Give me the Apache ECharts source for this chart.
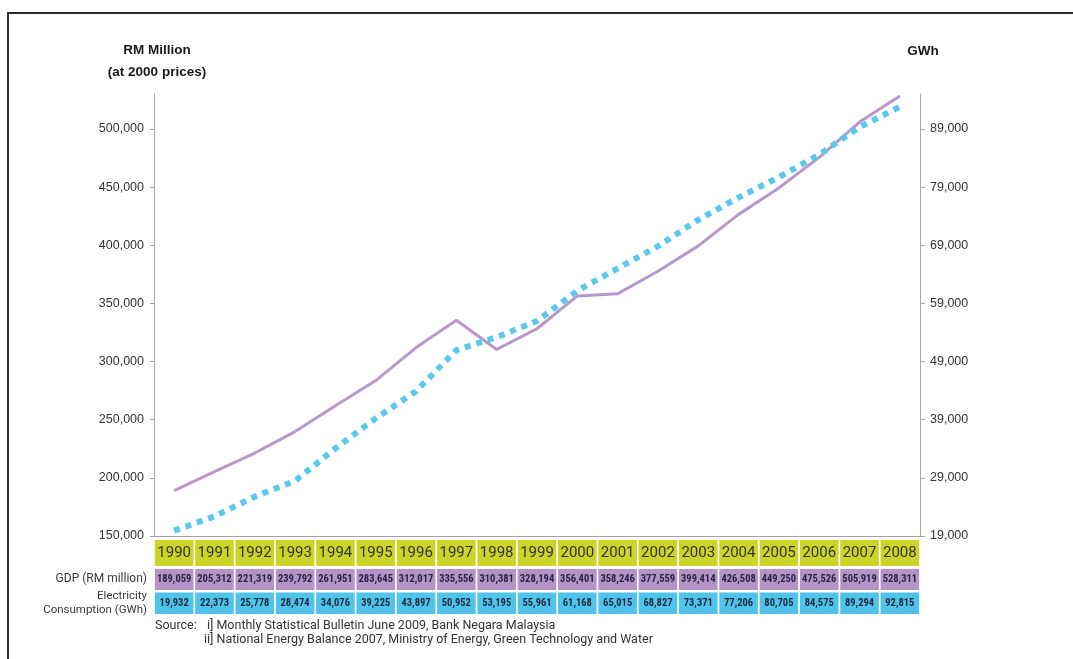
<!DOCTYPE html>
<html>
<head>
<meta charset="utf-8">
<script src="https://cdn.jsdelivr.net/npm/echarts@6/dist/echarts.min.js"></script>
<style>
  html, body { margin: 0; padding: 0; background: #fff; }
  #chart { position: absolute; left: 0; top: 0; width: 1073px; height: 659px; }
  #frame { position: absolute; left: 7px; top: 12px; width: 1100px; height: 700px;
           border-left: 2px solid #2b2b2b; border-top: 2px solid #2b2b2b; pointer-events: none; }
</style>
</head>
<body>
<div id="chart"></div>
<div id="frame"></div>
<script>
const years = ['1990','1991','1992','1993','1994','1995','1996','1997','1998','1999','2000','2001','2002','2003','2004','2005','2006','2007','2008'];
const gdp = [189059, 205312, 221319, 239792, 261951, 283645, 312017, 335556, 310381, 328194, 356401, 358246, 377559, 399414, 426508, 449250, 475526, 505919, 528311];
const elec = [19932, 22373, 25778, 28474, 34076, 39225, 43897, 50952, 53195, 55961, 61168, 65015, 68827, 73371, 77206, 80705, 84575, 89294, 92815];
const leftTicks = [150000, 200000, 250000, 300000, 350000, 400000, 450000, 500000];
const rightTicks = [19000, 29000, 39000, 49000, 59000, 69000, 79000, 89000];

const fmt = v => Number(v).toLocaleString('en-US');
const cellW = 38.6;
const numFont = '"Liberation Sans Narrow", "Roboto Condensed", Roboto, sans-serif';

const chart = echarts.init(document.getElementById('chart'));
const sideText = { fill: '#3a3a3a', font: '11.5px Roboto, "Open Sans", sans-serif' };

chart.setOption({
  animation: false,
  grid: { left: 154, right: 153, top: 94, bottom: 123 },
  xAxis: [
    {
      type: 'category', data: years, position: 'bottom', boundaryGap: true,
      axisLine: { show: true, lineStyle: { color: '#a99cbf', width: 1 } },
      axisTick: { show: false },
      axisLabel: {
        interval: 0, margin: 4, width: cellW, height: 26, lineHeight: 26,
        align: 'center', backgroundColor: '#ccd428', color: '#333',
        fontFamily: 'Roboto, sans-serif', fontSize: 15
      }
    },
    {
      type: 'category', data: years, position: 'bottom', offset: 29,
      axisLine: { show: false }, axisTick: { show: false },
      axisLabel: {
        interval: 0, margin: 4, width: cellW, height: 21, lineHeight: 21,
        align: 'center', backgroundColor: '#b593c9', color: '#2a2340',
        fontFamily: numFont, fontSize: 10.5, fontWeight: 'bold',
        formatter: (v, i) => fmt(gdp[i])
      }
    },
    {
      type: 'category', data: years, position: 'bottom', offset: 52.5,
      axisLine: { show: false }, axisTick: { show: false },
      axisLabel: {
        interval: 0, margin: 4, width: cellW, height: 21.5, lineHeight: 21.5,
        align: 'center', backgroundColor: '#4fc3ec', color: '#1f2a3a',
        fontFamily: numFont, fontSize: 10.5, fontWeight: 'bold',
        formatter: (v, i) => fmt(elec[i])
      }
    }
  ],
  yAxis: [
    {
      type: 'value', min: 150000, max: 530000, position: 'left',
      splitLine: { show: false },
      axisLine: { show: true, lineStyle: { color: '#a8a8a8' } },
      axisTick: { show: true, length: 4, lineStyle: { color: '#a8a8a8' }, customValues: leftTicks },
      axisLabel: { margin: 10, color: '#333', fontFamily: '"Liberation Sans", Arial, sans-serif', fontSize: 12.5,
                   customValues: leftTicks, formatter: v => fmt(v) }
    },
    {
      type: 'value', min: 19000, max: 95000, position: 'right',
      splitLine: { show: false },
      axisLine: { show: true, lineStyle: { color: '#a8a8a8' } },
      axisTick: { show: true, length: 5, lineStyle: { color: '#a8a8a8' }, customValues: rightTicks },
      axisLabel: { margin: 10, color: '#333', fontFamily: '"Liberation Sans", Arial, sans-serif', fontSize: 12.5,
                   customValues: rightTicks, formatter: v => fmt(v) }
    }
  ],
  series: [
    {
      name: 'GDP (RM million)', type: 'line', xAxisIndex: 0, yAxisIndex: 0, data: gdp,
      symbol: 'none', lineStyle: { color: '#b898cc', width: 3 }, z: 3
    },
    {
      name: 'Electricity Consumption (GWh)', type: 'line', xAxisIndex: 0, yAxisIndex: 1, data: elec,
      symbol: 'none', lineStyle: { color: '#5cc8ee', width: 6, type: [6, 6], cap: 'butt' }, z: 4
    }
  ],
  graphic: [
    { type: 'text', x: 157, y: 50, style: { text: 'RM Million', fill: '#1a1a1a', align: 'center', verticalAlign: 'middle',
      font: 'bold 13.5px "Liberation Sans Narrow", "Liberation Sans", Arial, sans-serif' } },
    { type: 'text', x: 157, y: 72, style: { text: '(at 2000 prices)', fill: '#1a1a1a', align: 'center', verticalAlign: 'middle',
      font: 'bold 13.5px "Liberation Sans Narrow", "Liberation Sans", Arial, sans-serif' } },
    { type: 'text', x: 923, y: 51, style: { text: 'GWh', fill: '#1a1a1a', align: 'center', verticalAlign: 'middle',
      font: 'bold 13.5px "Liberation Sans Narrow", "Liberation Sans", Arial, sans-serif' } },
    { type: 'text', x: 147, y: 579, style: { text: 'GDP (RM million)', align: 'right', verticalAlign: 'middle', fill: '#3a3a3a', font: '12px Roboto, sans-serif' } },
    { type: 'text', x: 147, y: 596, style: Object.assign({ text: 'Electricity', align: 'right', verticalAlign: 'middle' }, sideText) },
    { type: 'text', x: 147, y: 610, style: Object.assign({ text: 'Consumption (GWh)', align: 'right', verticalAlign: 'middle' }, sideText) },
    { type: 'text', x: 155, y: 626, style: { text: 'Source:', fill: '#333', align: 'left', verticalAlign: 'middle', font: '12.5px Roboto, sans-serif' } },
    { type: 'text', x: 207, y: 626, style: { text: 'i] Monthly Statistical Bulletin June 2009, Bank Negara Malaysia', fill: '#333', align: 'left', verticalAlign: 'middle', font: '12.5px Roboto, sans-serif' } },
    { type: 'text', x: 204, y: 640, style: { text: 'ii] National Energy Balance 2007, Ministry of Energy, Green Technology and Water', fill: '#333', align: 'left', verticalAlign: 'middle', font: '12.5px Roboto, sans-serif' } }
  ]
});
</script>
</body>
</html>
